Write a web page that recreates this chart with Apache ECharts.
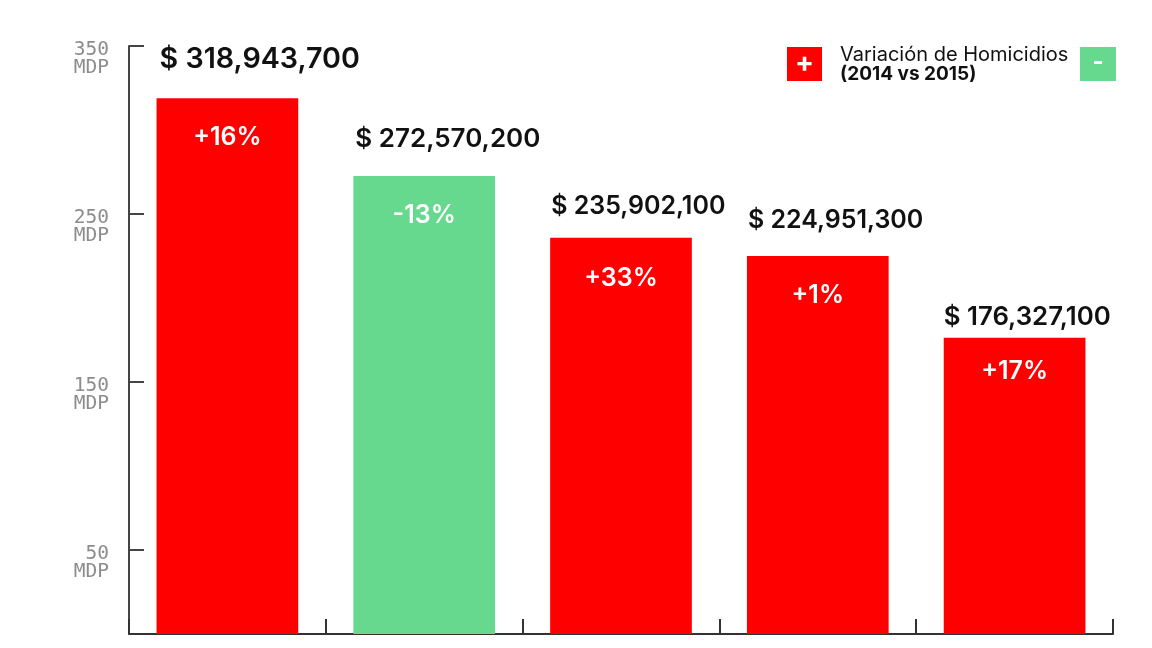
<!DOCTYPE html>
<html>
<head>
<meta charset="utf-8">
<script src="https://cdn.jsdelivr.net/npm/echarts@6/dist/echarts.min.js"></script>
<style>
html,body{margin:0;padding:0;background:#fff;}
#chart{width:1152px;height:648px;}
</style>
</head>
<body>
<div id="chart"></div>
<script>
// ---- Data ----
const categories = ['1', '2', '3', '4', '5'];
const montosMDP = [318.9437, 272.5702, 235.9021, 224.9513, 176.3271];
const variacion = [16, -13, 33, 1, 17];
const yTickValues = [50, 150, 250, 350];
const legendTitle = 'Variación de Homicidios';
const legendSub = '(2014 vs 2015)';

// ---- Styles ----
const RED = '#ff0000';
const GREEN = '#66d98e';
const valueFont = [28.7, 26, 25, 25, 25.8];
const valueOffY = [-39, -37, -31, -36, -21];
const valueOffX = [3, 2, 1, 1, 0];
const pctOffY = [39, 39, 41, 39, 34];

function fmtMoney(v) {
  const n = Math.round(v * 1e6);
  return '$ ' + n.toString().replace(/\B(?=(\d{3})+(?!\d))/g, ',');
}
function fmtPct(p) {
  return (p >= 0 ? '+' : '') + p + '%';
}

const chart = echarts.init(document.getElementById('chart'));
const option = {
  backgroundColor: '#ffffff',
  animation: false,
  grid: { left: 129, right: 39, top: 46, bottom: 14, containLabel: false },
  xAxis: {
    type: 'category',
    data: categories,
    axisLine: { show: true, lineStyle: { color: '#333', width: 2 } },
    axisTick: { show: true, inside: true, length: 15, lineStyle: { color: '#333', width: 2 } },
    axisLabel: { show: false },
    splitLine: { show: false }
  },
  yAxis: {
    type: 'value',
    min: 0,
    max: 350,
    axisLine: { show: true, lineStyle: { color: '#444', width: 2 } },
    axisTick: { show: true, inside: true, length: 15, customValues: yTickValues, lineStyle: { color: '#444', width: 2 } },
    axisLabel: {
      show: true,
      customValues: yTickValues,
      formatter: v => '{a|' + v + '}\n{b|MDP}',
      margin: 20,
      align: 'right',
      verticalAlign: 'top',
      rich: {
        a: { fontFamily: 'DejaVu Sans Mono', fontSize: 19.5, color: '#8c8c8c', lineHeight: 7, align: 'right' },
        b: { fontFamily: 'DejaVu Sans Mono', fontSize: 19.5, color: '#8c8c8c', lineHeight: 30, align: 'right' }
      }
    },
    splitLine: { show: false }
  },
  series: [
    {
      type: 'bar',
      barCategoryGap: '28%',
      data: montosMDP.map((v, i) => ({
        value: v,
        itemStyle: { color: variacion[i] >= 0 ? RED : GREEN },
        label: { position: ['50%', pctOffY[i]] }
      })),
      label: {
        show: true,
        formatter: p => fmtPct(variacion[p.dataIndex]),
        color: '#ffffff',
        fontFamily: 'Inter',
        fontWeight: 600,
        fontSize: 25,
        align: 'center',
        verticalAlign: 'middle'
      },
      z: 2
    },
    {
      type: 'bar',
      barGap: '-100%',
      barCategoryGap: '28%',
      data: montosMDP.map((v, i) => ({
        value: v,
        label: { position: [valueOffX[i], valueOffY[i]], fontSize: valueFont[i] }
      })),
      itemStyle: { color: 'rgba(0,0,0,0)' },
      label: {
        show: true,
        formatter: p => fmtMoney(montosMDP[p.dataIndex]),
        color: '#111111',
        fontFamily: 'Inter',
        fontWeight: 600,
        align: 'left',
        verticalAlign: 'middle'
      },
      silent: true,
      z: 3
    }
  ],
  graphic: [
    { type: 'rect', shape: { x: 787, y: 47, width: 35, height: 34 }, style: { fill: RED } },
    { type: 'text', x: 804.5, y: 64, style: { text: '+', fill: '#fff', font: 'bold 28px Inter', align: 'center', verticalAlign: 'middle' } },
    { type: 'text', x: 840, y: 55, style: { text: legendTitle, fill: '#111', font: '20px Inter', align: 'left', verticalAlign: 'middle' } },
    { type: 'text', x: 840, y: 74, style: { text: legendSub, fill: '#111', font: 'bold 19px Inter', align: 'left', verticalAlign: 'middle' } },
    { type: 'rect', shape: { x: 1080, y: 47, width: 36, height: 34 }, style: { fill: GREEN } },
    { type: 'text', x: 1098, y: 63, style: { text: '-', fill: '#fff', font: 'bold 24px Inter', align: 'center', verticalAlign: 'middle' } }
  ]
};
chart.setOption(option);
</script>
</body>
</html>
